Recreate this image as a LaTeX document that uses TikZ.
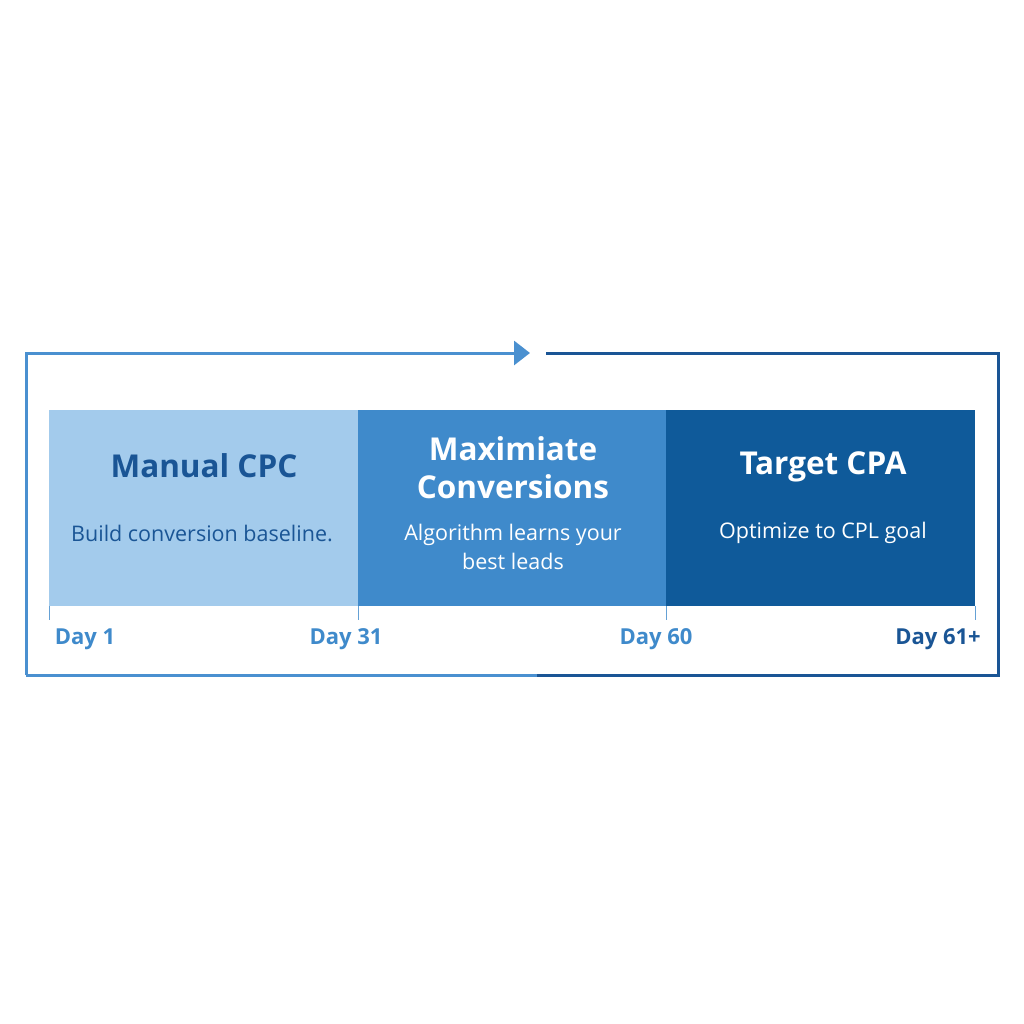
\documentclass[tikz,border=0pt]{standalone}
\usepackage{fontspec}
\setmainfont{Open Sans}
\usetikzlibrary{arrows.meta}
\definecolor{light}{HTML}{A3CBEC}
\definecolor{mid}{HTML}{3F8ACB}
\definecolor{dark}{HTML}{0F5A9A}
\definecolor{linel}{HTML}{4A90D0}
\definecolor{lined}{HTML}{1A5595}
\begin{document}
\begin{tikzpicture}[x=1pt,y=-1pt,
  box/.style={draw=none,minimum height=196pt,minimum width=308.5pt,anchor=north west,inner sep=0pt},
  title/.style={font=\bfseries\fontsize{31.5}{38}\selectfont,align=center},
  sub/.style={font=\fontsize{21.5}{29}\selectfont,align=center},
  day/.style={font=\bfseries\fontsize{22}{24}\selectfont,text=mid},
  tick/.style={draw=mid!80,line width=1pt}]
\useasboundingbox (0,0) rectangle (1024,1024);
\fill[white] (0,0) rectangle (1024,1024);
% frame
\coordinate (tl) at (26,353); \coordinate (bl) at (26,675);
\coordinate (tm) at (530,353); \coordinate (tm2) at (546,353);
\coordinate (tr) at (998,353); \coordinate (br) at (998,675);
\coordinate (bm) at (537,675);
\draw[linel,line width=3pt,-{Triangle[length=16pt,width=24pt]}] (bl) -- (tl) -- (tm);
\draw[lined,line width=3pt] (tm2) -- (tr) -- (br) -- (bm);
\draw[linel,line width=3pt] (bm) -- (bl);
% boxes
\node[box,fill=light] (b1) at (49,410) {};
\node[box,fill=mid] (b2) at (358,410) {};
\node[box,fill=dark] (b3) at (666,410) {};
\node[title,text=lined] (t1) at (204,466) {Manual CPC};
\node[title,text=white] (t2) at (513,468) {Maximiate\\Conversions};
\node[title,text=white] (t3) at (823,467) {Target CPA};
\node[sub,text=lined] (s1) at (202,533) {Build conversion baseline.};
\node[sub,text=white] (s2) at (513,547) {Algorithm learns your\\best leads};
\node[sub,text=white] (s3) at (823,533) {Optimize to CPL goal};
% ticks
\foreach \x/\n in {49/k1,358/k2,666/k3,975/k4}{
  \coordinate (\n a) at (\x,606); \coordinate (\n b) at (\x,620);
  \draw[tick] (\n a) -- (\n b);}
\node[day] (d1) at (85,639) {Day 1};
\node[day] (d2) at (346,639) {Day 31};
\node[day] (d3) at (656,639) {Day 60};
\node[day,text=lined] (d4) at (938,639) {Day 61+};
\end{tikzpicture}
\end{document}
